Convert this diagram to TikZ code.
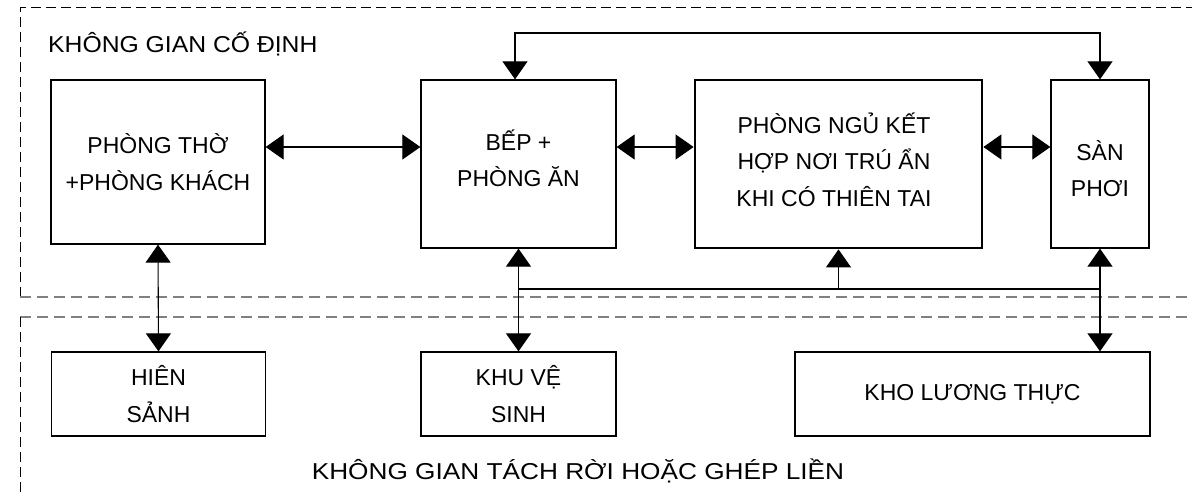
\documentclass[tikz,border=0pt]{standalone}
\usepackage{fontspec}
\usepackage{graphicx}
\setmainfont{Liberation Sans}
\usetikzlibrary{arrows.meta}

\tikzset{
  roomfont/.style={font=\fontsize{23}{36.5}\selectfont},
  room/.style={draw, line width=1.3pt, rectangle, align=center, inner sep=0pt, roomfont},
  mainroom/.style={room, line width=2.8pt},
  roomtext/.style={align=center, inner sep=0pt, roomfont},
  link/.style={line width=1.1pt},
  twoway/.style={link, {Triangle[length=18pt,width=25pt]}-{Triangle[length=18pt,width=25pt]}},
  oneway/.style={link, -{Triangle[length=18pt,width=25pt]}},
  zoneedge/.style={dash pattern=on 10pt off 5pt, line width=1pt},
  zonesplit/.style={dash pattern=on 11pt off 6pt, line width=1.6pt, draw=gray},
  zonetitle/.style={font=\fontsize{23}{27}\selectfont, inner sep=0pt}
}

\begin{document}
\begin{tikzpicture}[x=1pt, y=-1pt]
  \useasboundingbox (0,0) rectangle (1192,495);
  \clip (0,0) rectangle (1192,495);

  % zone outlines
  \draw[zoneedge] (20,297) -- (20,8) -- (1200,8);
  \draw[zonesplit] (20,297) -- (1200,297);
  \draw[zonesplit] (20,317) -- (1200,317);
  \draw[zoneedge] (20,317) -- (20,500);

  % zone titles
  \node[zonetitle, anchor=west] (fixedzone) at (48,44)
    {\scalebox{1.075}[1]{KHÔNG GIAN CỐ ĐỊNH}};
  \node[zonetitle] (loosezone) at (578,471)
    {\scalebox{1.14}[1]{KHÔNG GIAN TÁCH RỜI HOẶC GHÉP LIỀN}};

  % fixed rooms
  \node[room, minimum width=214pt, minimum height=164pt] (tho) at (158,162)
    {PHÒNG THỜ\\+PHÒNG KHÁCH};
  \node[room, minimum width=195pt, minimum height=168pt] (bep) at (518.5,164) {};
  \node[roomtext] (beptext) at (518.5,158.5) {BẾP +\\PHÒNG ĂN};
  \node[mainroom, minimum width=287pt, minimum height=168pt] (ngu) at (838.5,164) {};
  \node[roomtext] (ngutext) at (834,159.5) {PHÒNG NGỦ KẾT\\HỢP NƠI TRÚ ẨN\\KHI CÓ THIÊN TAI};
  \node[room, minimum width=98pt, minimum height=168pt] (san) at (1100,164) {};
  \node[roomtext] (santext) at (1100,168.5) {SÀN\\PHƠI};

  % detachable rooms
  \node[room, minimum width=214pt, minimum height=84pt] (hien) at (158.5,394)
    {HIÊN\\SẢNH};
  \node[room, minimum width=195pt, minimum height=84pt] (wc) at (518.5,394)
    {KHU VỆ\\SINH};
  \node[room, minimum width=355pt, minimum height=84pt] (kho) at (972.5,394)
    {KHO LƯƠNG THỰC};

  % reference levels for the connectors
  \coordinate (row) at (0,147);
  \coordinate (top) at (0,33);
  \coordinate (bus) at (0,289);
  \coordinate (loopleft) at (515,164);

  % horizontal links
  \draw[twoway] (tho.east |- row) -- (bep.west |- row);
  \draw[twoway] (bep.east |- row) -- (ngu.west |- row);
  \draw[twoway] (ngu.east |- row) -- (san.west |- row);

  % loop over the top
  \draw[twoway] (loopleft |- bep.north) -- (loopleft |- top) -- (san.north |- top) -- (san.north);

  % vertical links
  \draw[twoway] (tho.south) -- (hien.north);
  \draw[twoway] (bep.south) -- (wc.north);
  \draw[twoway] (san.south) -- (san.south |- kho.north);

  % shared corridor
  \draw[link] (bep.south |- bus) -- (san.south |- bus);
  \draw[oneway] (ngu.south |- bus) -- (ngu.south);
\end{tikzpicture}
\end{document}
